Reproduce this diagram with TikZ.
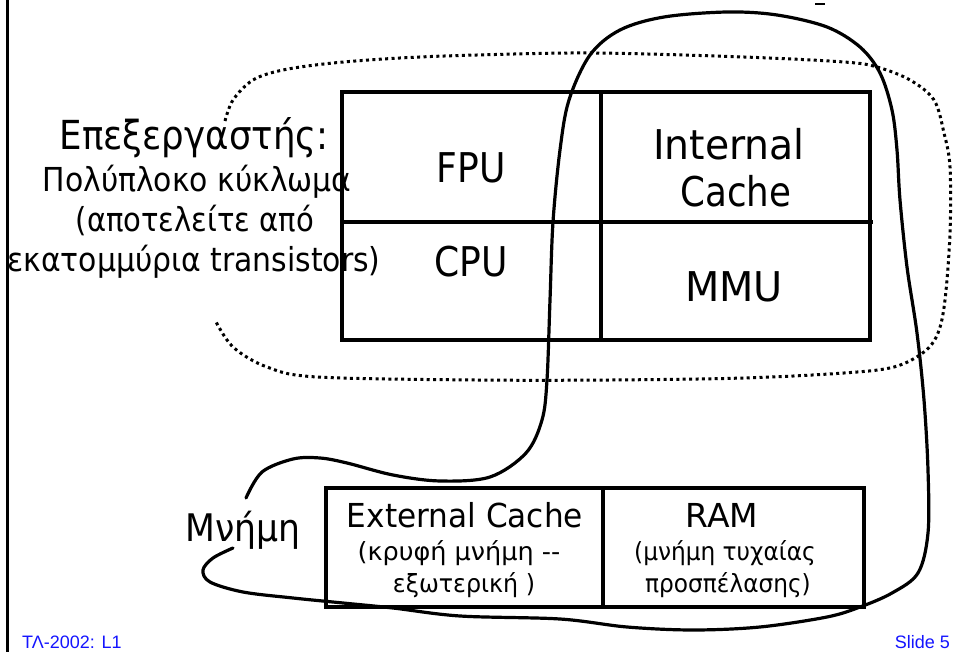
\documentclass[tikz,border=0pt]{standalone}
\usepackage{fontspec}
\usepackage{graphicx}
\setmainfont{DejaVu Sans}
\newfontfamily\footfont{Liberation Sans}
\definecolor{footblue}{RGB}{20,20,255}
\newcommand\sqz[2]{\scalebox{#1}[1]{#2}}
\begin{document}
\begin{tikzpicture}[x=1pt,y=-1pt,
  boxline/.style={line width=3.4pt},
  curveline/.style={line width=3.2pt, line cap=round, line join=round},
  dotline/.style={line width=3pt, line cap=butt, dash pattern=on 3pt off 3.4pt},
  lbl/.style={anchor=base, inner sep=0pt},
  huge/.style={lbl, font=\fontsize{40pt}{44pt}\selectfont},
  side/.style={lbl, font=\fontsize{33pt}{36pt}\selectfont},
  cell/.style={lbl, font=\fontsize{41pt}{44pt}\selectfont},
  mem/.style={lbl, font=\fontsize{33pt}{36pt}\selectfont},
  memsub/.style={lbl, font=\fontsize{25pt}{28pt}\selectfont},
  foot/.style={lbl, text=footblue, font=\footfont\fontsize{18pt}{20pt}\selectfont}]
\useasboundingbox (0,0) rectangle (954,652);
\fill[white] (0,0) rectangle (954,652);
% left border
\draw[line width=3pt] (7,0) -- (7,652);
% small mark at top
\draw[line width=2.2pt] (815,4) -- (825,4);

% processor box
\coordinate (pTL) at (342,92);
\coordinate (pBR) at (870,340);
\draw[boxline] (pTL) rectangle (pBR);
\draw[boxline] (601,92) -- (601,340);
\draw[boxline] (342,222) -- (873,222);

% memory box
\coordinate (mTL) at (326,488);
\coordinate (mBR) at (864,607);
\draw[boxline] (mTL) rectangle (mBR);
\draw[boxline] (603,488) -- (603,607);

% dotted processor outline
\draw[dotline] plot[smooth, tension=0.55] coordinates {
 (225,121) (233,100) (253,80) (283,70) (333,63) (400,58) (477,55) (594,53)
 (744,57) (844,62) (877,67) (910,80) (934,100) (944,133) (950,167) (950,233)
 (945,300) (938,333) (924,352) (894,367) (844,373) (744,378) (610,380) (477,380)
 (317,377) (267,367) (233,347) (215,320)};

% solid memory outline
\draw[curveline] plot[smooth, tension=0.55] coordinates {
 (246,498) (262,472) (293,459) (320,458) (347,463) (393,475) (440,481) (490,477)
 (526,453) (542,420) (547,380) (550,300) (553,222) (560,150) (569,100) (590,55)
 (620,30) (664,17) (727,12) (777,15) (827,27) (860,47) (880,73) (892,110)
 (897,150) (900,200) (907,267) (917,333) (924,400) (928,470) (928,533) (918,573)
 (892,593) (860,607) (827,617) (760,627) (693,630) (627,627) (560,619) (460,616)
 (393,608) (343,603) (293,598) (243,592) (210,582) (203,570) (213,558) (233,548)};

% processor texts
\node[huge] (proc) at (194,150) {\sqz{0.89}{Επεξεργαστής:}};
\node[side] (proc1) at (197,192) {\sqz{0.905}{Πολύπλοκο κύκλωμα}};
\node[side] (proc2) at (195,232) {\sqz{0.88}{(αποτελείτε από}};
\node[side] (proc3) at (194,272) {\sqz{0.905}{εκατομμύρια transistors)}};

\node[cell] (fpu) at (471,183) {\sqz{0.88}{FPU}};
\node[cell] (cpu) at (471,277) {\sqz{0.88}{CPU}};
\node[cell] (int1) at (729,160) {\sqz{0.96}{Internal}};
\node[cell] (int2) at (736,207) {\sqz{0.87}{Cache}};
\node[cell] (mmu) at (734,302) {\sqz{0.97}{MMU}};

% memory texts
\node[lbl, font=\fontsize{38pt}{40pt}\selectfont] (mnimi) at (243,541) {\sqz{0.91}{Μνήμη}};
\node[mem] (ext) at (465,527) {\sqz{0.944}{External Cache}};
\node[memsub] (ext1) at (459,560) {\sqz{1.02}{(κρυφή μνήμη -{}-}};
\node[memsub] (ext2) at (464,592) {\sqz{0.95}{εξωτερική )}};
\node[mem] (ram) at (722,527) {\sqz{1.0}{RAM}};
\node[memsub] (ram1) at (725,560) {\sqz{0.93}{(μνήμη τυχαίας}};
\node[memsub] (ram2) at (728,592) {\sqz{0.93}{προσπέλασης)}};

% footer
\node[foot, anchor=base west] (fl) at (22,648) {ΤΛ-2002: L1};
\node[foot, anchor=base east] (fr) at (950,648) {Slide 5};
\end{tikzpicture}
\end{document}
